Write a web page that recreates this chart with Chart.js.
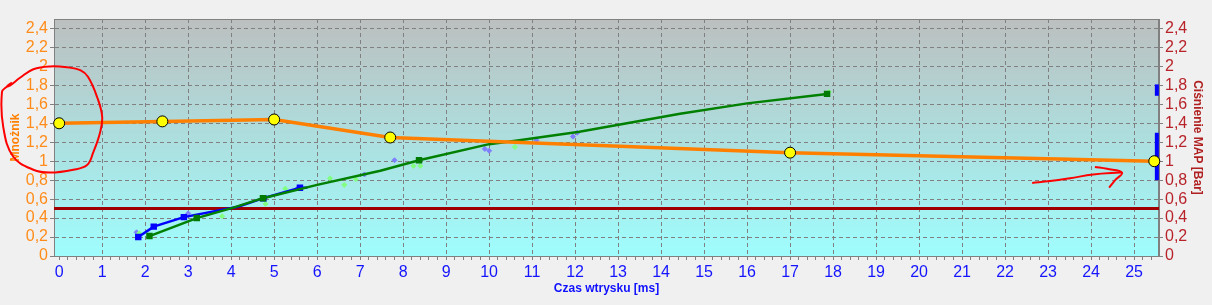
<!DOCTYPE html>
<html>
<head>
<meta charset="utf-8">
<script src="https://cdn.jsdelivr.net/npm/chart.js@4"></script>
<style>
  html, body { margin: 0; padding: 0; background: #f0f0f0; }
  canvas { display: block; }
</style>
</head>
<body>
<canvas id="mapChart" width="1212" height="305"></canvas>
<script>
// --- data ---

// Mnożnik (orange line with yellow points)
const mnoznikX = [0, 2.4, 5.0, 7.7, 17.0, 25.47];
const mnoznikY = [1.40, 1.42, 1.44, 1.25, 1.09, 1.00];

// dark green curve
const zielonaX = [2.1, 3.2, 4.05, 4.74, 6.0, 7.47, 8.37, 10.0, 10.7, 12.1, 14.44, 16.0, 17.86];
const zielonaY = [0.21, 0.40, 0.51, 0.61, 0.75, 0.90, 1.01, 1.18, 1.22, 1.31, 1.50, 1.61, 1.71];
const zielonaMarkers = [0, 1, 3, 6, 12];

// blue curve
const niebieskaX = [1.84, 2.2, 2.9, 4.16, 4.75, 5.6, 5.77];
const niebieskaY = [0.20, 0.31, 0.41, 0.52, 0.61, 0.72, 0.72];
const niebieskaMarkers = [0, 1, 2, 4, 5];

// loose light points
const jasnoZieloneX = [1.86, 3.79, 4.8, 5.26, 6.3, 6.63, 6.9, 8.24, 8.4, 10.6, 17.9];
const jasnoZieloneY = [0.24, 0.42, 0.55, 0.71, 0.82, 0.75, 0.81, 0.95, 0.95, 1.15, 1.73];
const fioletoweX = [1.8, 3.0, 5.56, 7.1, 7.8, 9.9, 10.0, 11.1, 11.95, 12.05];
const fioletoweY = [0.25, 0.45, 0.72, 0.86, 1.01, 1.13, 1.11, 1.22, 1.26, 1.30];

// reference line at 0.5
const progY = 0.5;

// MAP bars on the right edge
const mapBarX = 25.53;
const mapBars = [[0.80, 1.30], [1.69, 1.81]];

// axis ranges and ticks
const xMin = -0.12, xMax = 25.58;
const yMin = 0, yMax = 2.5;

// red hand-drawn marks (in chart units)
const kolkoX = [-1.21, -1.33, -1.30, -1.07, -0.60, -0.21, 0.33, 0.65, 0.79, 0.95, 1.00, 0.88, 0.67, 0.49, 0.19, -0.21, -0.60, -0.91, -1.14, -1.21, -1.10];
const kolkoY = [1.79, 1.73, 1.36, 1.05, 0.91, 0.88, 0.91, 0.96, 1.09, 1.30, 1.47, 1.68, 1.89, 1.96, 1.99, 2.00, 1.97, 1.88, 1.80, 1.79, 1.83];
const strzalkaX = [22.63, 23.05, 23.51, 24.05, 24.67, 24.72];
const strzalkaY = [0.77, 0.79, 0.82, 0.86, 0.88, 0.88];
const grotX = [24.09, 24.37, 24.72, 24.56, 24.42];
const grotY = [0.94, 0.92, 0.88, 0.80, 0.72];

function pts(xs, ys) {
    return xs.map((x, i) => ({ x: x, y: ys[i] }));
}

function fmt(v) {
    return String(Math.round(v * 10) / 10).replace('.', ',');
}

function isStep(v, step) {
    return Math.abs(v / step - Math.round(v / step)) < 1e-6;
}

const tickFont = { family: "'Liberation Sans Narrow', 'Liberation Sans', Arial, sans-serif", size: 16 };
const titleFont = { family: "'Liberation Sans', Arial, sans-serif", size: 12, weight: 'bold' };

const markerRadius = (list) => (c) => list.includes(c.dataIndex) ? 2.8 : 0;

const datasets = [
    {
        label: 'Mnożnik',
        data: pts(mnoznikX, mnoznikY),
        borderColor: '#ff8000',
        borderWidth: 3.5,
        pointRadius: 5.5,
        pointBackgroundColor: '#ffff00',
        pointBorderColor: '#000000',
        pointBorderWidth: 1,
        order: 2
    },
    {
        label: 'zielona',
        data: pts(zielonaX, zielonaY),
        borderColor: '#008000',
        borderWidth: 2.5,
        pointStyle: 'rect',
        pointRadius: markerRadius(zielonaMarkers),
        pointBackgroundColor: '#007a00',
        pointBorderColor: '#007a00',
        order: 3
    },
    {
        label: 'niebieska',
        data: pts(niebieskaX, niebieskaY),
        borderColor: '#0000ff',
        borderWidth: 2.5,
        pointStyle: 'rect',
        pointRadius: markerRadius(niebieskaMarkers),
        pointBackgroundColor: '#0000ff',
        pointBorderColor: '#0000ff',
        order: 4
    },
    {
        label: 'jasnozielone',
        data: pts(jasnoZieloneX, jasnoZieloneY),
        showLine: false,
        pointStyle: 'rectRot',
        pointRadius: 2.5,
        pointBackgroundColor: '#80ff80',
        pointBorderColor: '#80ff80',
        order: 6
    },
    {
        label: 'fioletowe',
        data: pts(fioletoweX, fioletoweY),
        showLine: false,
        pointStyle: 'rectRot',
        pointRadius: 2.5,
        pointBackgroundColor: '#8080ff',
        pointBorderColor: '#8080ff',
        order: 6
    },
    {
        label: 'prog',
        data: [{ x: xMin, y: progY }, { x: xMax, y: progY }],
        borderColor: '#a00000',
        borderWidth: 3,
        pointRadius: 0,
        order: 7
    }
];

mapBars.forEach(b => {
    datasets.push({
        label: 'MAP',
        data: [{ x: mapBarX, y: b[0] }, { x: mapBarX, y: b[1] }],
        borderColor: '#0000ff',
        borderWidth: 4,
        borderCapStyle: 'butt',
        pointRadius: 0,
        order: 5
    });
});

[[kolkoX, kolkoY], [strzalkaX, strzalkaY], [grotX, grotY]].forEach(m => {
    datasets.push({
        label: 'adnotacja',
        data: pts(m[0], m[1]),
        borderColor: '#ff0000',
        borderWidth: 2,
        tension: 0.4,
        pointRadius: 0,
        order: 0
    });
});

// background gradient + frame
const plotBackground = {
    id: 'plotBackground',
    beforeDraw(chart) {
        const { ctx, chartArea: a } = chart;
        ctx.save();
        ctx.fillStyle = '#f0f0f0';
        ctx.fillRect(0, 0, chart.width, chart.height);
        const g = ctx.createLinearGradient(0, a.top, 0, a.bottom);
        g.addColorStop(0, '#bcbfbf');
        g.addColorStop(1, '#9ffdfd');
        ctx.fillStyle = g;
        ctx.fillRect(a.left, a.top, a.right - a.left, a.bottom - a.top);
        ctx.restore();
    },
    beforeDatasetsDraw(chart) {
        const { ctx, chartArea: a } = chart;
        ctx.save();
        ctx.strokeStyle = '#808080';
        ctx.lineWidth = 1;
        ctx.strokeRect(a.left + 0.5, a.top + 0.5, a.right - a.left - 1, a.bottom - a.top);
        ctx.restore();
    }
};

const ctx = document.getElementById('mapChart').getContext('2d');

const chart = new Chart(ctx, {
    type: 'line',
    data: { datasets: datasets },
    options: {
        responsive: false,
        animation: false,
        layout: { padding: { top: 19, left: 0, right: 0, bottom: 0 } },
        elements: { line: { tension: 0 } },
        datasets: { line: { clip: false } },
        plugins: {
            legend: { display: false },
            tooltip: { enabled: false }
        },
        scales: {
            x: {
                type: 'linear',
                min: xMin,
                max: xMax,
                afterFit: s => { s.height = 49; },
                border: { color: '#808080', dash: [4, 3] },
                grid: {
                    color: c => (isStep(c.tick.value, 1) && c.tick.value > 0 && c.tick.value < 25.5) ? '#808080' : 'transparent',
                    tickColor: '#808080',
                    tickLength: 4
                },
                ticks: {
                    stepSize: 0.2,
                    includeBounds: false,
                    autoSkip: false,
                    maxRotation: 0,
                    padding: 3,
                    color: '#1414ff',
                    font: tickFont,
                    callback: v => (isStep(v, 1) && v > -0.01 && v <= 25) ? String(Math.round(v)) : ''
                },
                title: {
                    display: true,
                    text: 'Czas wtrysku [ms]',
                    color: '#1010ff',
                    font: titleFont,
                    padding: 9
                }
            },
            y: {
                position: 'left',
                min: yMin,
                max: yMax,
                afterFit: s => { s.width = 54; },
                border: { color: '#808080', dash: [4, 3] },
                grid: {
                    color: c => (c.tick.value > 0 && c.tick.value < 2.45) ? '#808080' : 'transparent',
                    tickColor: '#808080',
                    tickLength: 4
                },
                ticks: {
                    stepSize: 0.2,
                    includeBounds: false,
                    autoSkip: false,
                    padding: 2,
                    color: '#ff8c1a',
                    font: tickFont,
                    callback: v => fmt(v)
                },
                title: {
                    display: true,
                    text: 'Mnożnik',
                    color: '#ff8000',
                    font: titleFont,
                    padding: 8
                }
            },
            y2: {
                position: 'right',
                min: yMin,
                max: yMax,
                afterFit: s => { s.width = 53; },
                border: { color: '#808080' },
                grid: {
                    drawOnChartArea: false,
                    tickColor: '#808080',
                    tickLength: 4
                },
                ticks: {
                    stepSize: 0.2,
                    includeBounds: false,
                    autoSkip: false,
                    padding: 2,
                    color: '#b8232a',
                    font: tickFont,
                    callback: v => fmt(v)
                },
                title: {
                    display: true,
                    text: 'Ciśnienie MAP [Bar]',
                    color: '#b02020',
                    font: titleFont,
                    padding: 7
                }
            }
        }
    },
    plugins: [plotBackground]
});
</script>
</body>
</html>
